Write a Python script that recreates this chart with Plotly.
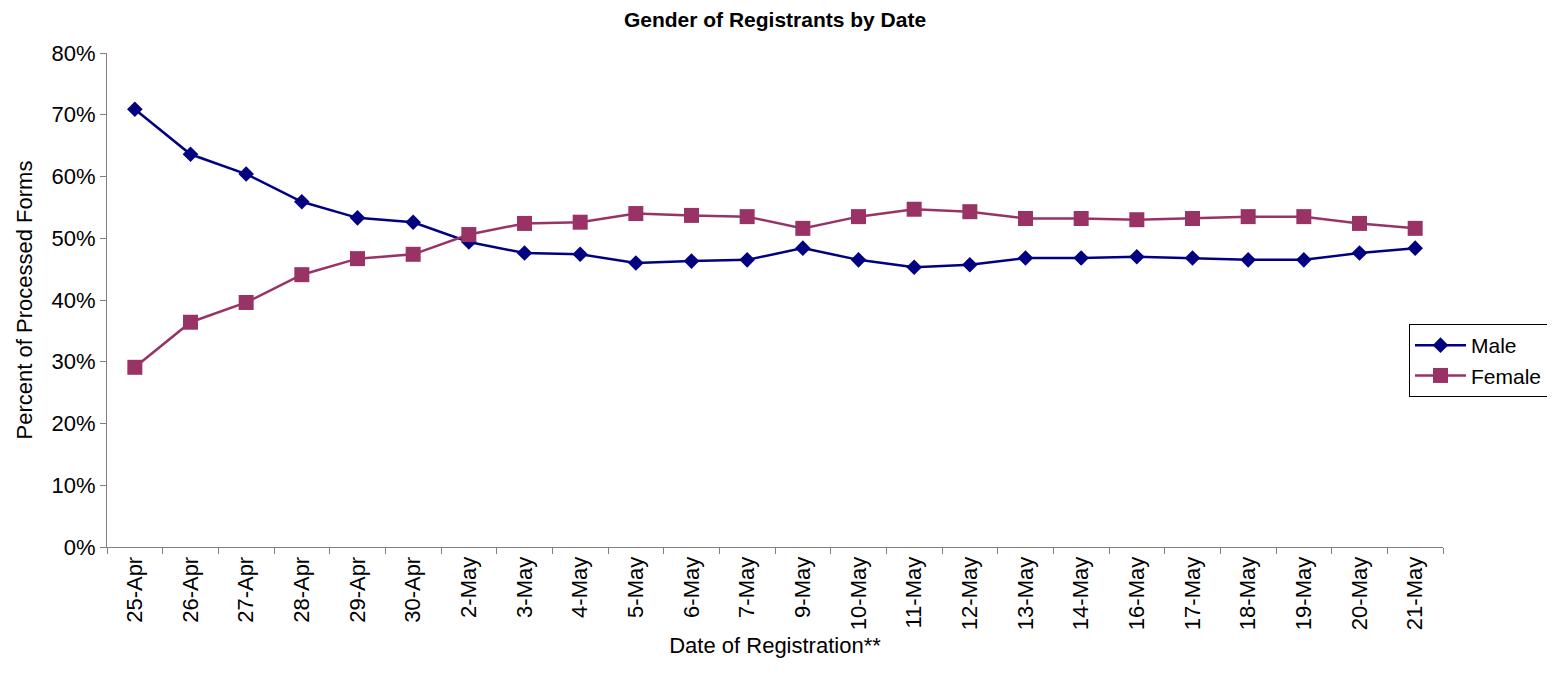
import plotly.graph_objects as go

dates = ["25-Apr", "26-Apr", "27-Apr", "28-Apr", "29-Apr", "30-Apr", "2-May", "3-May",
         "4-May", "5-May", "6-May", "7-May", "9-May", "10-May", "11-May", "12-May",
         "13-May", "14-May", "16-May", "17-May", "18-May", "19-May", "20-May", "21-May"]
male = [0.709, 0.636, 0.604, 0.559, 0.533, 0.526, 0.494, 0.476, 0.474, 0.460, 0.463, 0.465,
        0.484, 0.465, 0.453, 0.457, 0.468, 0.468, 0.470, 0.468, 0.465, 0.465, 0.476, 0.484]
female = [0.291, 0.364, 0.396, 0.441, 0.467, 0.474, 0.506, 0.524, 0.526, 0.540, 0.537, 0.535,
          0.516, 0.535, 0.547, 0.543, 0.532, 0.532, 0.530, 0.532, 0.535, 0.535, 0.524, 0.516]

FONT = "Liberation Sans, Arial, sans-serif"

# page offset of 8px (body margin) is compensated in the size/margins;
# height kept so the page does not overflow the 674px window
W, H = 1547, 658
ML, MR, MT, MB = 99, 112, 45, 119
PW, PH = W - ML - MR, H - MT - MB

fig = go.Figure()
fig.add_trace(go.Scatter(x=dates, y=male, name="Male", mode="lines+markers",
                         line=dict(color="#000080", width=2.5),
                         marker=dict(symbol="diamond", size=12, color="#000080")))
fig.add_trace(go.Scatter(x=dates, y=female, name="Female", mode="lines+markers",
                         line=dict(color="#993366", width=2.5),
                         marker=dict(symbol="square", size=15, color="#993366")))

fig.update_layout(
    width=W, height=H,
    margin=dict(l=ML, r=MR, t=MT, b=MB, autoexpand=False),
    paper_bgcolor="white", plot_bgcolor="white",
    font=dict(family=FONT, size=22, color="black"),
    title=dict(text="<b>Gender of Registrants by Date</b>", x=0.5, xanchor="center",
               xref="paper", y=1 - 12 / H, yanchor="middle", font=dict(size=21, family=FONT)),
    showlegend=True,
    legend=dict(x=(1409 - 107) / PW, y=(547 - 324) / PH, xanchor="left", yanchor="top",
                bgcolor="white", bordercolor="black", borderwidth=1,
                font=dict(size=21, family=FONT), tracegroupgap=0, itemwidth=51),
    xaxis=dict(type="category", range=[-0.5, 23.5], tickangle=-90,
               showline=True, linecolor="#808080", linewidth=1,
               ticks="outside", tickson="boundaries", ticklen=6, tickcolor="#808080",
               showgrid=False, zeroline=False,
               title=dict(text="Date of Registration**", font=dict(size=22), standoff=8),
               tickfont=dict(size=22)),
    yaxis=dict(range=[0, 0.8], dtick=0.1, tickformat=".0%",
               showline=True, linecolor="#808080", linewidth=1,
               ticks="outside", ticklen=6, tickcolor="#808080",
               showgrid=False, zeroline=False,
               title=dict(text="Percent of Processed Forms", font=dict(size=22), standoff=12),
               tickfont=dict(size=22)),
)

fig.write_html("out.html")
